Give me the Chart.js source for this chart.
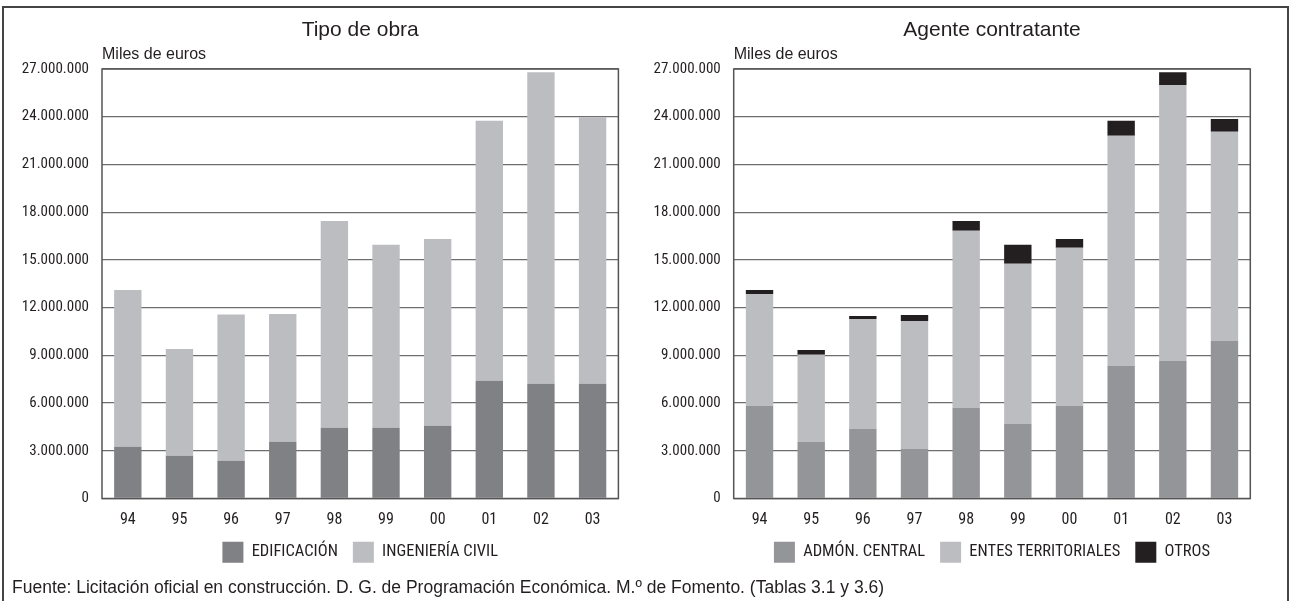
<!DOCTYPE html>
<html>
<head>
<meta charset="utf-8">
<script src="https://cdn.jsdelivr.net/npm/chart.js@4/dist/chart.umd.min.js"></script>
<style>
  html, body { margin: 0; padding: 0; background: #fff; width: 1290px; height: 601px; overflow: hidden; }
  #frame { position: absolute; left: 2px; top: 6px; width: 1287px; height: 640px; border: 2px solid #444; box-sizing: border-box; }
  canvas { position: absolute; top: 0; }
  #c1 { left: 0; }
  #c2 { left: 640px; }
  #footer { position: absolute; left: 12px; top: 577px; font: 17.5px 'Liberation Sans', Arial, sans-serif; line-height: 20px; color: #231f20; white-space: nowrap; }
</style>
</head>
<body>
<div id="frame"></div>
<canvas id="c1" width="640" height="601"></canvas>
<canvas id="c2" width="650" height="601"></canvas>
<div id="footer">Fuente: Licitación oficial en construcción. D. G. de Programación Económica. M.º de Fomento. (Tablas 3.1 y 3.6)</div>
<script>
// ---- Data (miles de euros) ----
const years = ['94', '95', '96', '97', '98', '99', '00', '01', '02', '03'];

const edificacion     = [3250000, 2680000, 2370000, 3560000, 4440000, 4440000, 4570000, 7400000, 7210000, 7210000];
const ingenieriaCivil = [9860000, 6720000, 9190000, 8040000, 13010000, 11510000, 11750000, 16340000, 19590000, 16760000];

const admonCentral       = [5830000, 3560000, 4380000, 3120000, 5700000, 4700000, 5830000, 8340000, 8660000, 9910000];
const entesTerritoriales = [7030000, 5470000, 6910000, 8040000, 11130000, 10050000, 9930000, 14460000, 17340000, 13140000];
const otros              = [250000, 310000, 190000, 380000, 620000, 1200000, 560000, 940000, 800000, 810000];

const yMax = 27000000;
const yStep = 3000000;

const titles = ['Tipo de obra', 'Agente contratante'];
const unitLabel = 'Miles de euros';

// ---- Styling ----
const NARROW = "'Roboto Condensed', 'Liberation Sans Narrow', 'DejaVu Sans Condensed', sans-serif";
const REGULAR = "'Liberation Sans', Arial, sans-serif";
const TEXT = '#231f20';

function fmt(v) {
  return String(v).replace(/\B(?=(\d{3})+(?!\d))/g, '.');
}

const plotBorder = {
  id: 'plotBorder',
  afterDraw(chart) {
    const a = chart.chartArea, ctx = chart.ctx;
    ctx.save();
    ctx.strokeStyle = '#555';
    ctx.lineWidth = 1.5;
    ctx.strokeRect(a.left, a.top, a.right - a.left, a.bottom - a.top);
    ctx.restore();
  }
};

function makeChart(id, title, datasets, yAxisWidth, padRight, legendPad) {
  const boxTop = 541.7;
  const plotBottom = 498.5;
  const legendTop = boxTop - legendPad;
  return new Chart(document.getElementById(id), {
    type: 'bar',
    data: { labels: years, datasets: datasets },
    plugins: [plotBorder],
    options: {
      responsive: false,
      animation: false,
      devicePixelRatio: 1,
      layout: { padding: { left: 0, right: padRight, top: 0, bottom: 601 - (boxTop + 31) } },
      datasets: { bar: { categoryPercentage: 1, barPercentage: 0.53 } },
      plugins: {
        title: {
          display: true, text: title, fullSize: false, align: 'center',
          color: TEXT, font: { family: REGULAR, size: 21, weight: 'normal', lineHeight: 1.2 },
          padding: { top: 17.4, bottom: 2.8 }
        },
        subtitle: {
          display: true, text: unitLabel, fullSize: false, align: 'start',
          color: TEXT, font: { family: REGULAR, size: 16, weight: 'normal', lineHeight: 1.2 },
          padding: { top: 0, bottom: 4.4 }
        },
        legend: {
          display: true, position: 'bottom', fullSize: false, align: 'center',
          labels: {
            boxWidth: 21, boxHeight: 21, padding: legendPad, color: TEXT,
            font: { family: NARROW, size: 16.5 }
          }
        },
        tooltip: { enabled: false }
      },
      scales: {
        x: {
          stacked: true,
          grid: { display: false },
          border: { display: false },
          ticks: { color: TEXT, font: { family: NARROW, size: 16 }, padding: 4, maxRotation: 0 },
          afterFit(scale) { scale.height = legendTop - plotBottom; }
        },
        y: {
          stacked: true,
          min: 0, max: yMax,
          grid: { color: '#6e6e6e', lineWidth: 1.3, drawTicks: false },
          border: { display: false },
          ticks: { stepSize: yStep, color: TEXT, font: { family: NARROW, size: 15 }, padding: 13, callback: v => fmt(v) },
          afterFit(scale) { scale.width = yAxisWidth; }
        }
      }
    }
  });
}

makeChart('c1', titles[0], [
  { label: 'EDIFICACIÓN', data: edificacion, backgroundColor: '#808184' },
  { label: 'INGENIERÍA CIVIL', data: ingenieriaCivil, backgroundColor: '#bcbdc0' }
], 102, 640 - 618.4, 15);

makeChart('c2', titles[1], [
  { label: 'ADMÓN. CENTRAL', data: admonCentral, backgroundColor: '#939598' },
  { label: 'ENTES TERRITORIALES', data: entesTerritoriales, backgroundColor: '#bcbdc0' },
  { label: 'OTROS', data: otros, backgroundColor: '#231f20' }
], 93.7, 650 - 610.3, 15);
</script>
</body>
</html>
